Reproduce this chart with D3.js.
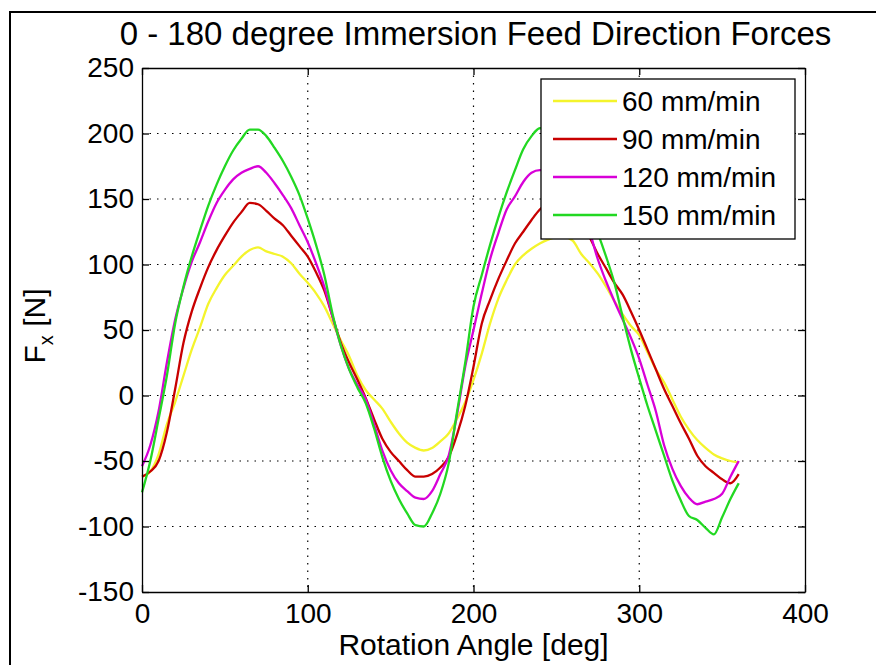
<!DOCTYPE html>
<html>
<head>
<meta charset="utf-8">
<script src="https://cdn.jsdelivr.net/npm/d3@7"></script>
<style>
  html, body { margin: 0; padding: 0; background: #fff; }
  svg { display: block; }
  text { font-family: "Liberation Sans", Arial, Helvetica, sans-serif; fill: #000; }
</style>
</head>
<body>
<svg id="chart" width="876" height="665"></svg>
<script>
// ---------------- DATA ----------------
const title = "0 - 180 degree Immersion Feed Direction Forces";
const xLabel = "Rotation Angle [deg]";
const seriesLabels = ["60 mm/min", "90 mm/min", "120 mm/min", "150 mm/min"];
const seriesColors = ["#f4f42c", "#c80000", "#d800d8", "#22d822"];

const xTicks = [0, 100, 200, 300, 400];
const yTicks = [-150, -100, -50, 0, 50, 100, 150, 200, 250];

const angles = [0,5,10,15,20,25,30,35,40,45,50,55,60,65,70,75,80,85,90,95,
  100,105,110,115,120,125,130,135,140,145,150,155,160,165,170,175,180,185,190,195,
  200,205,210,215,220,225,230,235,240,245,250,255,260,265,270,275,280,285,290,295,
  300,305,310,315,320,325,330,335,340,345,350,355,360];

const feed60 = [-62,-58,-45,-22,-5,15,35,52,70,82,92,99,106,111,113,110,108,106,101,93,
  86,78,68,55,42,30,15,4,-3,-10,-20,-29,-36,-40,-42,-40,-35,-29,-18,-5,
  12,32,55,74,88,100,107,112,116,119,121,121,118,108,101,93,83,72,62,53,
  46,33,20,10,-3,-16,-26,-34,-40,-45,-48,-50,-51];

const feed90 = [-62,-58,-50,-28,5,40,64,82,98,111,122,132,140,147,146,141,135,130,122,114,
  106,94,80,60,40,25,12,-2,-18,-33,-43,-50,-57,-62,-62,-60,-55,-47,-30,-8,
  22,55,73,89,103,116,125,134,142,147,149,148,143,133,121,108,97,86,77,64,
  50,35,20,5,-8,-21,-33,-46,-54,-59,-64,-67,-60];

const feed120 = [-54,-38,-12,25,58,82,102,117,133,147,157,165,170,173,175,170,162,153,143,130,
  117,101,83,60,38,20,8,-3,-22,-42,-57,-67,-73,-78,-79,-73,-60,-46,-15,22,
  50,78,104,124,142,152,163,170,172,172,166,157,148,138,125,104,87,72,58,44,
  28,8,-12,-38,-56,-69,-78,-83,-81,-79,-75,-62,-50];

const feed150 = [-74,-50,-18,15,55,83,106,126,145,161,175,187,196,203,203,198,189,179,167,153,
  135,115,92,62,38,20,6,-6,-25,-47,-65,-79,-90,-99,-100,-90,-75,-52,-13,25,
  68,92,115,136,155,172,188,198,204,204,196,185,172,158,140,124,106,86,60,35,
  13,-8,-27,-46,-65,-80,-92,-95,-101,-106,-93,-79,-67];

const seriesValues = [feed60, feed90, feed120, feed150];

// ---------------- LAYOUT ----------------
const svg = d3.select("#chart");
const plot = { left: 142, right: 805, top: 68, bottom: 592 };

const x = d3.scaleLinear().domain([0, 400]).range([plot.left, plot.right]);
const y = d3.scaleLinear().domain([-150, 250]).range([plot.bottom, plot.top]);

// outer figure frame (left and top edges visible)
svg.append("rect")
  .attr("x", 10).attr("y", 12).attr("width", 900).attr("height", 700)
  .attr("fill", "none").attr("stroke", "#000").attr("stroke-width", 2);

// grid
const grid = svg.append("g").attr("stroke", "#000").attr("stroke-width", 1.2)
  .attr("stroke-dasharray", "1.5,6");
grid.selectAll("line.gx").data(xTicks.slice(1, -1)).join("line")
  .attr("x1", d => x(d)).attr("x2", d => x(d))
  .attr("y1", plot.top).attr("y2", plot.bottom);
grid.selectAll("line.gy").data(yTicks.slice(1, -1)).join("line")
  .attr("x1", plot.left).attr("x2", plot.right)
  .attr("y1", d => y(d)).attr("y2", d => y(d));

// curves
const line = d3.line()
  .x((d, i) => x(angles[i]))
  .y(d => y(d))
  .curve(d3.curveMonotoneX);

svg.append("g").selectAll("path").data(seriesValues).join("path")
  .attr("d", d => line(d))
  .attr("fill", "none")
  .attr("stroke", (d, i) => seriesColors[i])
  .attr("stroke-width", 2.3)
  .attr("stroke-linejoin", "round");

// axes (MATLAB-style box with inward ticks)
const tickLen = 7;
const fontTick = 28;
const fmt = d => String(d);   // plain hyphen minus like the original

const axB = svg.append("g").attr("transform", `translate(0,${plot.bottom})`)
  .call(d3.axisBottom(x).tickValues(xTicks).tickFormat(fmt).tickSize(-tickLen).tickPadding(10).tickSizeOuter(0));
const axT = svg.append("g").attr("transform", `translate(0,${plot.top})`)
  .call(d3.axisTop(x).tickValues(xTicks).tickSize(-tickLen).tickFormat("").tickSizeOuter(0));
const axL = svg.append("g").attr("transform", `translate(${plot.left},0)`)
  .call(d3.axisLeft(y).tickValues(yTicks).tickFormat(fmt).tickSize(-tickLen).tickPadding(8).tickSizeOuter(0));
const axR = svg.append("g").attr("transform", `translate(${plot.right},0)`)
  .call(d3.axisRight(y).tickValues(yTicks).tickSize(-tickLen).tickFormat("").tickSizeOuter(0));

[axB, axT, axL, axR].forEach(g => {
  g.select(".domain").attr("stroke", "#000").attr("stroke-width", 1.3);
  g.selectAll(".tick line").attr("stroke", "#000").attr("stroke-width", 1.3);
  g.selectAll(".tick text").attr("font-size", fontTick)
    .attr("font-family", "Liberation Sans, Arial, sans-serif").attr("fill", "#000");
});
axB.selectAll(".tick text").attr("dy", "0.75em");

// legend
const lg = svg.append("g").attr("transform", "translate(541,79)");
lg.append("rect").attr("width", 254).attr("height", 160)
  .attr("fill", "#fff").attr("stroke", "#000").attr("stroke-width", 1.3);
const items = lg.selectAll("g.item").data(seriesLabels).join("g")
  .attr("transform", (d, i) => `translate(0,${22 + i * 38})`);
items.append("line").attr("x1", 12).attr("x2", 76).attr("y1", 0).attr("y2", 0)
  .attr("stroke", (d, i) => seriesColors[i]).attr("stroke-width", 2.3);
items.append("text").attr("x", 81).attr("y", 0).attr("dy", "0.36em")
  .attr("font-size", 28).text(d => d);

// title
svg.append("text").attr("x", (plot.left + plot.right) / 2 + 2).attr("y", 45)
  .attr("text-anchor", "middle").attr("font-size", 33).text(title);

// x label
svg.append("text").attr("x", (plot.left + plot.right) / 2).attr("y", 655)
  .attr("text-anchor", "middle").attr("font-size", 30).text(xLabel);

// y label F_x [N]
const yl = svg.append("text")
  .attr("transform", `translate(45,${(plot.top + plot.bottom) / 2 - 4}) rotate(-90)`)
  .attr("text-anchor", "middle").attr("font-size", 30);
yl.append("tspan").text("F");
yl.append("tspan").attr("font-size", 20).attr("dy", 8).text("x");
yl.append("tspan").attr("dy", -8).text(" [N]");
</script>
</body>
</html>
